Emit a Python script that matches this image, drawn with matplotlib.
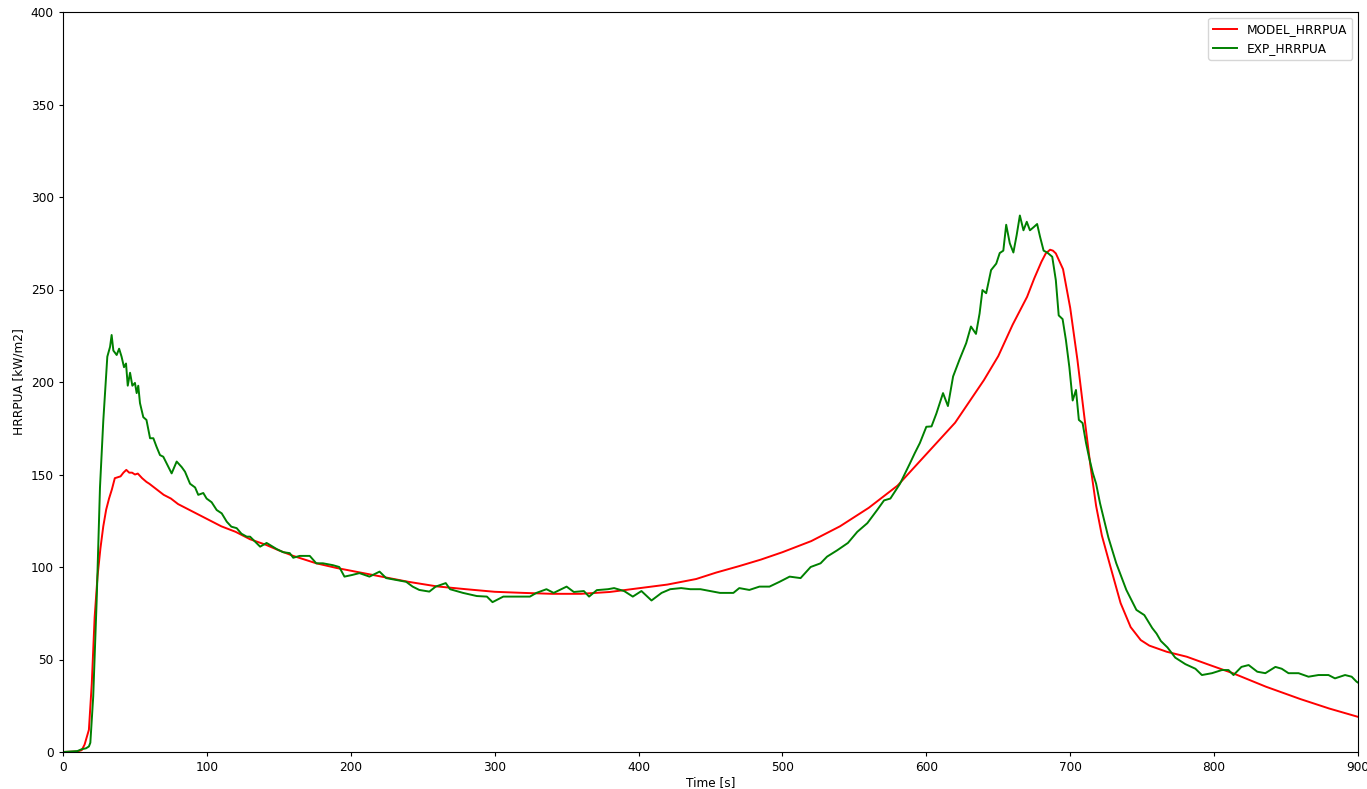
import matplotlib
matplotlib.use('Agg')
from matplotlib import pyplot as plt
import numpy as np

plt.rcParams['font.size'] = 8.7
plt.rcParams['lines.linewidth'] = 1.4
plt.rcParams['xtick.major.size'] = 3.1
plt.rcParams['ytick.major.size'] = 3.1

# model curve (smooth)
model_t = [0, 10, 13, 15, 18, 20, 22, 24, 26, 28, 30, 32, 34, 36, 38, 40, 42, 44, 46, 48,
           50, 52, 55, 58, 60, 65, 70, 75, 80, 85, 90, 95, 100, 110, 120, 130, 141, 150,
           160, 176, 190, 200, 220, 240, 260, 280, 300, 320, 340, 360, 380, 400, 420, 440,
           454, 470, 485, 500, 520, 540, 560, 580, 600, 620, 640, 650, 660, 670, 675, 680,
           683, 686, 688, 690, 695, 700, 705, 710, 714, 718, 722, 728, 735, 742,
           749, 755, 767, 781, 797, 813, 836, 860, 880, 900]
model_hrr = [0, 0.3, 1, 4, 12, 37, 73, 95, 110, 122, 131, 137, 142, 148, 148.5, 149, 151, 152.5, 151, 151,
             150, 150.5, 148, 146, 145, 142, 139, 137, 134, 132, 130, 128, 126, 122, 119, 115, 112, 109,
             106, 102, 99.5, 98, 95, 92, 89.5, 88, 86.6, 86, 85.5, 85.5, 86.5, 88.5, 90.5, 93.5,
             97, 100.5, 104, 108, 114, 122, 132, 144, 161, 178, 201, 214, 231, 246, 256, 265,
             269.5, 271.5, 271, 269.5, 261, 240, 212, 180, 155, 133, 117, 100, 80.5, 67.5,
             60.5, 57.5, 54.2, 51.5, 47, 42.6, 35.3, 28.6, 23.5, 19]

# experimental curve
exp_t = [0, 10, 13, 16, 18, 19, 21, 23.4, 25.7, 28, 30.8, 32.7, 33.8, 35, 37.3, 39, 40.7, 42.4, 43.8, 45,
         46.6, 48.2, 50, 51.2, 52.3, 53.5, 55.8, 58, 60.5, 62.8, 65, 67.4, 69.7, 72, 75.5, 79, 82.5,
         84.8, 88.3, 91.8, 94, 97.5, 99.8, 103.3, 106.8, 110.3, 113.8, 117, 120.7, 124, 127.7,
         130, 137, 141.5, 148.5, 153, 157.6, 160, 164.5, 171.5, 176, 180.6, 187.5, 192, 195.6,
         201, 206, 213, 220, 224.6, 231.5, 238.5, 243, 247.6, 254.6, 259, 266, 269, 278, 287.6,
         294.6, 298.5, 306, 315, 324.5, 329, 336, 341, 350, 355, 362, 365.6, 371, 378.8, 383,
         390, 396, 402, 409, 416, 422, 429.6, 436, 443, 450, 456.6, 465.9, 470, 477, 484, 491,
         498, 505, 512.6, 519.6, 526.5, 531, 538, 545.5, 552, 559, 566, 570.6, 575, 581.7,
         588.6, 592, 595.5, 600, 603.6, 607, 611.6, 615, 618.6, 623, 627.7, 631, 634.5, 637,
         639, 641.6, 645, 648.6, 651, 653.5, 655.5, 658, 660.5, 662.8, 665, 667.5, 669.8, 672,
         674.6, 677, 679, 681.5, 684, 687.5, 690, 692, 694.7, 697, 699.4, 701.7, 704, 706,
         708.6, 711, 713, 715.7, 718, 720.7, 726.5, 732, 739, 746, 751.5, 757, 760, 763, 767.6,
         773, 780, 787, 791.5, 798.5, 805.4, 810, 813.5, 819, 824, 830, 835.6, 842.6, 847,
         851.7, 858.7, 865.6, 872.5, 879.5, 884, 891, 895.6, 899, 900]
exp_hrr = [0, 0.5, 1.5, 2, 3, 5, 30, 82, 143, 179, 213.7, 219, 225.4, 217, 214.6, 218, 213.7, 208, 210, 198,
           205, 198, 199.5, 194, 198, 188.6, 181, 179.5, 169.6, 169.6, 165, 160.5, 159.6, 156, 150.6, 157, 154,
           151.5, 145, 143, 139, 140, 137, 135, 130.8, 129, 124.5, 121.8, 121, 118, 116.4,
           116.4, 111, 113, 109.7, 108, 107.5, 105, 106, 106, 102, 102, 101, 100, 94.8,
           95.7, 96.7, 94.8, 97.5, 94, 93, 92, 89.4, 87.6, 86.7, 89.4, 91.3, 88, 86, 84.3,
           84, 81, 84, 84, 84, 86, 88, 86, 89.4, 86.5, 87, 84, 87.5, 88, 88.6,
           87, 84, 87, 81.9, 86, 88, 88.6, 88, 88, 87, 86, 86, 88.6, 87.6, 89.4, 89.4,
           92, 94.8, 94, 100, 102, 105.6, 109, 113, 119, 123.7, 131, 136, 137, 145,
           156, 161.6, 167, 175.8, 176, 183, 194, 187, 203, 212, 221, 230, 226, 237,
           249.7, 248, 260.5, 264, 269.7, 271, 285, 275, 270, 279.5, 290, 282, 286.6, 282,
           283.7, 285.4, 278.6, 271, 270, 267.7, 255, 236, 234, 222.7, 208, 190, 195.7, 179.5,
           177.8, 167, 159.6, 150.8, 145, 134.5, 116, 102, 87.6, 76.8, 74, 67, 64, 60, 56.5,
           51, 47.5, 45, 41.6, 42.6, 44.3, 44.3, 41.6, 46, 47, 43.4, 42.6, 46, 45,
           42.6, 42.6, 40.7, 41.6, 41.6, 39.8, 41.6, 40.7, 38, 37.5]

fig = plt.figure(figsize=(13.67, 7.89), dpi=100)
ax = fig.add_axes([63 / 1367, 1 - 752 / 789, 1295 / 1367, 740 / 789])

ax.plot(model_t, model_hrr, color='red', label='MODEL_HRRPUA')
ax.plot(exp_t, exp_hrr, color='green', label='EXP_HRRPUA')

ax.set_xlim(0, 900)
ax.set_ylim(0, 400)
ax.set_xlabel('Time [s]', labelpad=1.5)
ax.set_ylabel('HRRPUA [kW/m2]')
ax.legend(loc='upper right')

fig.savefig('out.png', dpi=100)
